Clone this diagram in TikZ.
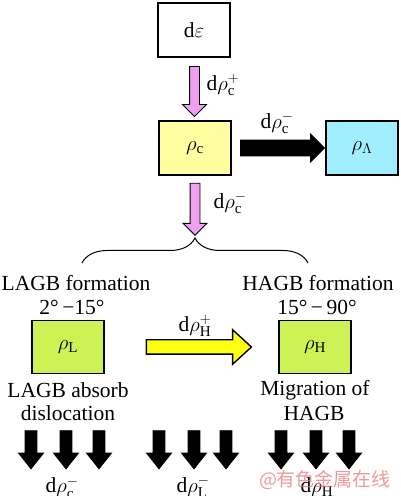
\documentclass[tikz,border=0pt]{standalone}
\usepackage{fontspec}
\setmainfont{Liberation Serif}
\newfontfamily\cjk{Noto Sans CJK SC}
\usetikzlibrary{shapes.arrows,calc,decorations.pathreplacing}

\definecolor{epsfill}{RGB}{255,255,255}
\definecolor{cfill}{RGB}{255,255,160}
\definecolor{lamfill}{RGB}{160,238,255}
\definecolor{gbfill}{RGB}{205,242,85}
\definecolor{pinkarr}{RGB}{240,160,240}
\definecolor{yelarr}{RGB}{255,255,20}
\definecolor{wmark}{RGB}{232,120,120}

\begin{document}
\begin{tikzpicture}[x=1pt, y=1pt,
  font=\fontsize{21.5}{24}\selectfont,
  box/.style={draw=black, line width=1.2pt, minimum width=72pt, minimum height=54pt, inner sep=0pt},
  blockarr/.style={single arrow, draw=black, line width=0.9pt, inner xsep=0pt},
  dnarr/.style={blockarr, fill=black, rotate=-90, minimum height=38pt, minimum width=24pt,
    inner ysep=5.5pt, single arrow head extend=6.5pt, single arrow tip angle=77}]

  \useasboundingbox (0,0) rectangle (400,496);

  % boxes
  \node[box, fill=epsfill] (eps) at (194,466) {$\mathrm{d}\varepsilon$};
  \node[box, fill=cfill] (rc) at (195,348) {$\rho_{\mathrm{c}}$};
  \node[box, fill=lamfill] (rlam) at (362,348) {$\rho_{\Lambda}$};
  \node[box, fill=gbfill, minimum height=53pt] (rL) at (68,149) {$\rho_{\mathrm{L}}$};
  \node[box, fill=gbfill, minimum height=53pt] (rH) at (315,149) {$\rho_{\mathrm{H}}$};

  \coordinate (tip) at (195,258);
  \draw[line width=1pt, decorate, decoration={brace, amplitude=25pt}] (82,233) -- (308,233);

  % arrows between the boxes
  \node[blockarr, fill=pinkarr, rotate=-90, minimum height=50pt, minimum width=23pt, inner ysep=4.5pt,
    single arrow head extend=7pt, single arrow tip angle=90] (a1) at ($(eps.south)!0.5!(rc.north)$) {};
  \node[anchor=west] (la1) at (203,411) {$\mathrm{d}\rho_{\mathrm{c}}^{+}$};

  \node[blockarr, fill=black, minimum height=84pt, minimum width=27pt, inner ysep=7.5pt,
    single arrow head extend=6pt, single arrow tip angle=90] (a2) at ($(rc.east)!0.5!(rlam.west)$) {};
  \node (la2) at (277,373) {$\mathrm{d}\rho_{\mathrm{c}}^{-}$};

  \node[blockarr, fill=pinkarr, rotate=-90, minimum height=52pt, minimum width=23pt, inner ysep=4.5pt,
    single arrow head extend=7pt, single arrow tip angle=90] (a3) at ($(rc.south)!0.5!(tip)$) {};
  \node[anchor=west] (la3) at (210,293) {$\mathrm{d}\rho_{\mathrm{c}}^{-}$};

  \node[blockarr, fill=yelarr, line width=1.4pt, minimum height=105pt, minimum width=33pt, inner ysep=6.5pt,
    single arrow head extend=10pt, single arrow tip angle=85] (a4) at ($(rL.east)!0.52!(rH.west)$) {};
  \node (la4) at (195,170) {$\mathrm{d}\rho_{\mathrm{H}}^{+}$};

  % texts round the grain boundary boxes
  \node (lagb) at (76,213) {LAGB formation};
  \node (lang) at (72,189) {2°\,−15°};
  \node (hagb) at (318,213) {HAGB formation};
  \node (hang) at (317,189) {15°\,−\,90°};
  \node (labs) at (68,106) {LAGB absorb};
  \node (ldis) at (68,83) {dislocation};
  \node (hmig) at (315,106) {Migration of};
  \node (hhagb) at (314,83) {HAGB};

  % annihilation arrows
  \node[dnarr] (d1) at (31,50) {};
  \node[dnarr] (d2) at (66,50) {};
  \node[dnarr] (d3) at (99,50) {};
  \node[dnarr] (d4) at (159,50) {};
  \node[dnarr] (d5) at (194,50) {};
  \node[dnarr] (d6) at (226,50) {};
  \node[dnarr] (d7) at (281,50) {};
  \node[dnarr] (d8) at (316,50) {};
  \node[dnarr] (d9) at (349,50) {};

  \node[anchor=base] (lc) at (62,3) {$\mathrm{d}\rho_{\mathrm{c}}^{-}$};
  \node[anchor=base] (ll) at (193,3) {$\mathrm{d}\rho_{\mathrm{L}}^{-}$};
  \node[anchor=base] (lh) at (317,3) {$\mathrm{d}\rho_{\mathrm{H}}$};

  \node[text=wmark, opacity=0.75, font=\cjk\fontsize{19}{22}\selectfont] (wm) at (325,16) {@有色金属在线};

\end{tikzpicture}
\end{document}
